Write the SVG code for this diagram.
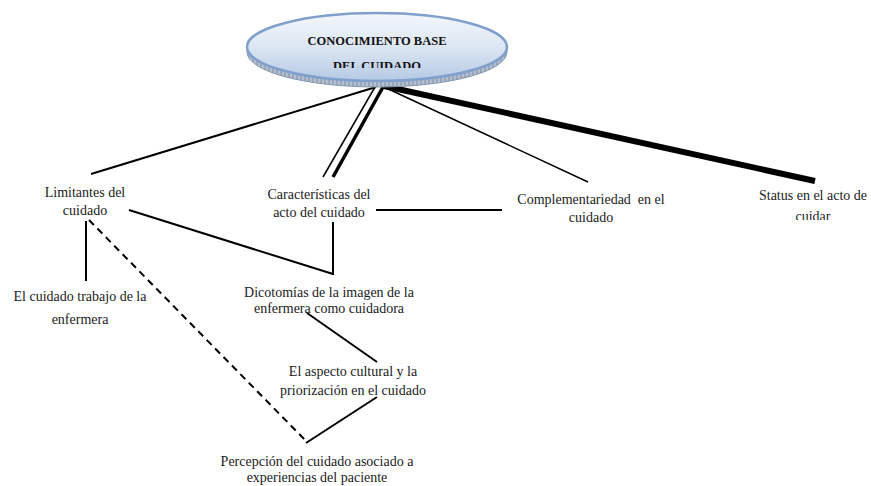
<svg xmlns="http://www.w3.org/2000/svg" width="871" height="486" viewBox="0 0 871 486">
  <defs>
    <linearGradient id="ovalFill" x1="0" y1="0" x2="0" y2="1">
      <stop offset="0" stop-color="#f4f7fc"/>
      <stop offset="0.5" stop-color="#dce6f3"/>
      <stop offset="1" stop-color="#b5c9e4"/>
    </linearGradient>
    <pattern id="hatch" width="4" height="10" patternUnits="userSpaceOnUse">
      <rect width="4" height="10" fill="#b4c0d2"/>
      <line x1="1" y1="0" x2="1" y2="10" stroke="#6f7f96" stroke-width="0.8"/>
    </pattern>
    <clipPath id="clipTitle">
      <rect x="240" y="0" width="280" height="68"/>
    </clipPath>
    <clipPath id="clipStatus">
      <rect x="740" y="150" width="131" height="70"/>
    </clipPath>
    <style>
      .lbl { font-family: "Liberation Serif", "Times New Roman", serif; font-size: 14px; fill: #222; text-anchor: middle; }
      .title { font-family: "Liberation Serif", "Times New Roman", serif; font-size: 12.5px; font-weight: bold; fill: #111; text-anchor: middle; }
      .ln { stroke: #000; fill: none; stroke-linecap: butt; }
    </style>
  </defs>

  <g id="connectors">
    <line class="ln" x1="376" y1="87" x2="91" y2="174" stroke-width="2"/>
    <line class="ln" x1="375" y1="87" x2="323" y2="177" stroke-width="1.5"/>
    <line class="ln" x1="383" y1="87" x2="333" y2="177" stroke-width="3.5"/>
    <line class="ln" x1="384" y1="87" x2="588" y2="182" stroke-width="1.5"/>
    <line class="ln" x1="384" y1="86" x2="815" y2="181" stroke-width="6"/>
    <line class="ln" x1="376" y1="210" x2="502" y2="210" stroke-width="2"/>
    <line class="ln" x1="129" y1="210" x2="333" y2="274" stroke-width="2"/>
    <line class="ln" x1="333" y1="222" x2="333" y2="275" stroke-width="2"/>
    <line class="ln" x1="86" y1="221" x2="86" y2="281" stroke-width="2"/>
    <line class="ln" x1="89" y1="220" x2="307" y2="442" stroke-width="2" stroke-dasharray="7,5"/>
    <line class="ln" x1="307" y1="313" x2="377" y2="362" stroke-width="2"/>
    <line class="ln" x1="377" y1="397" x2="306" y2="443" stroke-width="2"/>
  </g>

  <g id="root">
    <ellipse cx="377" cy="52" rx="130" ry="35" fill="url(#hatch)" stroke="#8596ad" stroke-width="1"/>
    <ellipse cx="377" cy="47" rx="130" ry="34" fill="url(#ovalFill)" stroke="#7f9fcc" stroke-width="2.5"/>
    <g clip-path="url(#clipTitle)">
      <text class="title" x="377" y="45">CONOCIMIENTO BASE</text>
      <text class="title" x="377" y="70">DEL CUIDADO</text>
    </g>
  </g>

  <g id="limitantes">
    <text class="lbl" x="85" y="197">Limitantes del</text>
    <text class="lbl" x="85" y="215">cuidado</text>
  </g>
  <g id="caracteristicas">
    <text class="lbl" x="319" y="199">Características del</text>
    <text class="lbl" x="319" y="217">acto del cuidado</text>
  </g>
  <g id="complementariedad">
    <text class="lbl" x="591" y="204">Complementariedad&#160; en el</text>
    <text class="lbl" x="591" y="222">cuidado</text>
  </g>
  <g id="status">
    <text class="lbl" x="813" y="200">Status en el acto de</text>
    <g clip-path="url(#clipStatus)">
      <text class="lbl" x="813" y="221">cuidar</text>
    </g>
  </g>
  <g id="trabajo">
    <text class="lbl" x="80" y="301">El cuidado trabajo de la</text>
    <text class="lbl" x="80" y="324">enfermera</text>
  </g>
  <g id="dicotomias">
    <text class="lbl" x="329" y="297">Dicotomías de la imagen de la</text>
    <text class="lbl" x="329" y="313">enfermera como cuidadora</text>
  </g>
  <g id="aspecto">
    <text class="lbl" x="353" y="376">El aspecto cultural y la</text>
    <text class="lbl" x="353" y="395">priorización en el cuidado</text>
  </g>
  <g id="percepcion">
    <text class="lbl" x="317" y="466">Percepción del cuidado asociado a</text>
    <text class="lbl" x="317" y="482">experiencias del paciente</text>
  </g>
</svg>
